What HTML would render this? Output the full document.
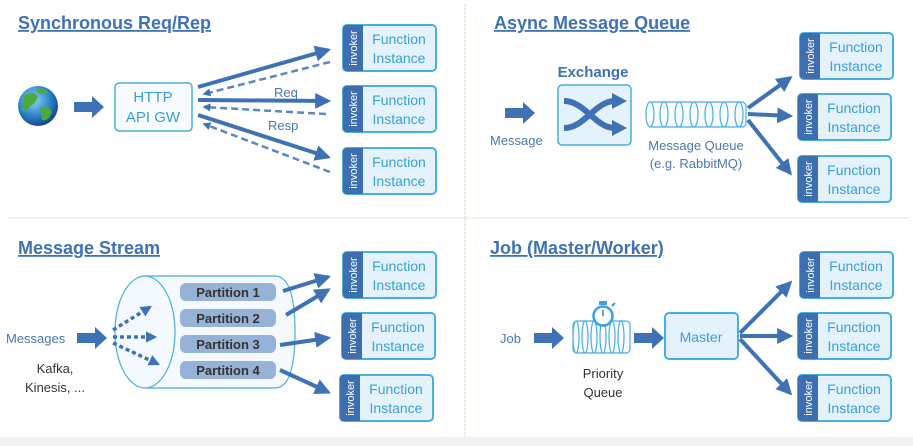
<!DOCTYPE html>
<html><head><meta charset="utf-8"><style>
html,body{margin:0;padding:0;background:#fff}
svg{display:block}
text{font-family:"Liberation Sans","DejaVu Sans",sans-serif}
.t{font-size:18px;font-weight:bold;fill:#3f72b5;text-decoration:underline}
.fi{font-size:14px;fill:#3a9fd6}
.inv{font-size:11px;fill:#fff}
.lb{font-size:13px;fill:#4a78b0}
.dk{font-size:13px;fill:#333}
</style></head><body>
<svg width="913" height="446" viewBox="0 0 913 446" xmlns="http://www.w3.org/2000/svg">
<defs>
<radialGradient id="gl" cx="0.4" cy="0.35" r="0.7"><stop offset="0" stop-color="#8fd0f5"/><stop offset="0.6" stop-color="#2a7fc8"/><stop offset="1" stop-color="#123f80"/></radialGradient>
<marker id="ah" viewBox="0 0 10 10" refX="8" refY="5" markerWidth="4" markerHeight="4" orient="auto"><path d="M0,0 L10,5 L0,10 z" fill="#3f72b5"/></marker>
<marker id="ahs" viewBox="0 0 10 10" refX="8" refY="5" markerWidth="3.2" markerHeight="3.2" orient="auto"><path d="M0,0 L10,5 L0,10 z" fill="#3f72b5"/></marker>
<g id="fb">
<rect x="1" y="1" width="93" height="46" rx="4" fill="#e4f3fb" stroke="#4aaee0" stroke-width="2"/>
<path d="M5,1 H21 V47 H5 Q1,47 1,43 V5 Q1,1 5,1z" fill="#3d6fb0"/>
<text class="inv" transform="translate(15,24) rotate(-90)" text-anchor="middle">invoker</text>
<text class="fi" x="57" y="20" text-anchor="middle">Function</text>
<text class="fi" x="57" y="39" text-anchor="middle">Instance</text>
</g>
<g id="bigarrow"><path d="M0,-5 H18 V-11 L30,0 L18,11 V5 H0z" fill="#3f72b5"/></g>
</defs>
<rect x="0" y="437" width="913" height="9" fill="#f2f2f2"/>
<line x1="8" y1="218" x2="910" y2="218" stroke="#c8c8c8" stroke-dasharray="1,1"/>
<line x1="465" y1="4" x2="465" y2="437" stroke="#c8c0a8" stroke-dasharray="1,1"/>

<!-- Sync -->
<text class="t" x="18" y="29">Synchronous  Req/Rep</text>
<circle cx="38" cy="106" r="20" fill="url(#gl)"/>
<path d="M24,96 q8,-6 14,0 q-2,8 -8,10 q-4,6 -8,4z M40,108 q8,-4 12,4 q-4,10 -10,8z M36,90 q6,-4 12,2 q-4,2 -8,2z" fill="#4caa3c"/>
<use href="#bigarrow" x="74" y="107"/>
<rect x="115" y="83" width="77" height="48" rx="4" fill="#f7fbfe" stroke="#4aaee0" stroke-width="1.5"/>
<text class="fi" x="153" y="102" text-anchor="middle" style="font-size:15px">HTTP</text>
<text class="fi" x="153" y="122" text-anchor="middle" style="font-size:15px">API GW</text>
<g stroke="#3f72b5" stroke-width="4" fill="none">
<line x1="198" y1="87" x2="328" y2="50" marker-end="url(#ah)"/>
<line x1="198" y1="100" x2="328" y2="101" marker-end="url(#ah)"/>
<line x1="198" y1="115" x2="328" y2="157" marker-end="url(#ah)"/>
</g>
<g stroke="#5b86c0" stroke-width="2.5" fill="none" stroke-dasharray="7,4">
<line x1="330" y1="62" x2="204" y2="94" marker-end="url(#ahs)"/>
<line x1="326" y1="114" x2="204" y2="107" marker-end="url(#ahs)"/>
<line x1="330" y1="172" x2="204" y2="124" marker-end="url(#ahs)"/>
</g>
<text class="lb" x="274" y="97">Req</text>
<text class="lb" x="268" y="130">Resp</text>
<use href="#fb" x="342" y="24"/>
<use href="#fb" x="342" y="85"/>
<use href="#fb" x="342" y="147"/>

<!-- Async -->
<text class="t" x="494" y="29">Async Message Queue</text>
<use href="#bigarrow" x="505" y="113"/>
<text class="lb" x="490" y="145">Message</text>
<text x="593" y="77" text-anchor="middle" style="font-size:15px;font-weight:bold;fill:#3f72b5">Exchange</text>
<rect x="558" y="85" width="73" height="60" rx="4" fill="#e4f3fb" stroke="#4aaee0" stroke-width="1.5"/>
<g stroke="#3f72b5" stroke-width="6" fill="none">
<path d="M564,101 C585,101 595,128 615,128"/>
<path d="M564,128 C585,128 595,101 615,101"/>
</g>
<path d="M612,93 L627,101 L612,109z M612,120 L627,128 L612,136z" fill="#3f72b5"/>
<g stroke="#4aaee0" stroke-width="1.2" fill="#f7fbfe">
<rect x="648" y="102" width="98" height="25" rx="4"/>
<ellipse cx="650" cy="114.5" rx="4" ry="12.5"/>
<ellipse cx="664" cy="114.5" rx="4" ry="12.5"/>
<ellipse cx="679" cy="114.5" rx="4" ry="12.5"/>
<ellipse cx="694" cy="114.5" rx="4" ry="12.5"/>
<ellipse cx="709" cy="114.5" rx="4" ry="12.5"/>
<ellipse cx="724" cy="114.5" rx="4" ry="12.5"/>
<ellipse cx="739" cy="114.5" rx="4" ry="12.5"/>
</g>
<text class="lb" x="696" y="150" text-anchor="middle">Message Queue</text>
<text class="lb" x="696" y="168" text-anchor="middle">(e.g. RabbitMQ)</text>
<g stroke="#3f72b5" stroke-width="4" fill="none">
<line x1="748" y1="108" x2="790" y2="78" marker-end="url(#ah)"/>
<line x1="748" y1="114" x2="790" y2="116" marker-end="url(#ah)"/>
<line x1="748" y1="120" x2="790" y2="173" marker-end="url(#ah)"/>
</g>
<use href="#fb" x="799" y="32"/>
<use href="#fb" x="797" y="93"/>
<use href="#fb" x="797" y="155"/>

<!-- Stream -->
<text class="t" x="18" y="254">Message Stream</text>
<text class="lb" x="6" y="343">Messages</text>
<use href="#bigarrow" x="77" y="338"/>
<text class="dk" x="55" y="373" text-anchor="middle">Kafka,</text>
<text class="dk" x="55" y="392" text-anchor="middle">Kinesis, ...</text>
<path d="M145,276 H275 Q295,276 295,332 Q295,388 275,388 H145" fill="#f3f9fd" stroke="#4aaee0" stroke-width="1.2"/>
<ellipse cx="145" cy="332" rx="30" ry="56" fill="#f3f9fd" stroke="#4aaee0" stroke-width="1.2"/>
<g stroke="#3f72b5" stroke-width="3.5" fill="none" stroke-dasharray="4,3">
<line x1="113" y1="330" x2="150" y2="307" marker-end="url(#ahs)"/>
<line x1="113" y1="337" x2="155" y2="337" marker-end="url(#ahs)"/>
<line x1="113" y1="343" x2="158" y2="364" marker-end="url(#ahs)"/>
</g>
<g fill="#96b2d6">
<rect x="180" y="283" width="96" height="18" rx="6"/>
<rect x="180" y="309" width="96" height="18" rx="6"/>
<rect x="180" y="335" width="96" height="18" rx="6"/>
<rect x="180" y="361" width="96" height="18" rx="6"/>
</g>
<g style="font-size:13px;font-weight:bold;fill:#333">
<text x="228" y="297" text-anchor="middle">Partition 1</text>
<text x="228" y="323" text-anchor="middle">Partition 2</text>
<text x="228" y="349" text-anchor="middle">Partition 3</text>
<text x="228" y="375" text-anchor="middle">Partition 4</text>
</g>
<g stroke="#3f72b5" stroke-width="4" fill="none">
<line x1="283" y1="291" x2="328" y2="277" marker-end="url(#ah)"/>
<line x1="286" y1="315" x2="328" y2="290" marker-end="url(#ah)"/>
<line x1="280" y1="345" x2="328" y2="338" marker-end="url(#ah)"/>
<line x1="280" y1="370" x2="328" y2="392" marker-end="url(#ah)"/>
</g>
<use href="#fb" x="342" y="251"/>
<use href="#fb" x="341" y="312"/>
<use href="#fb" x="339" y="374"/>

<!-- Job -->
<text class="t" x="490" y="254">Job (Master/Worker)</text>
<text class="lb" x="500" y="343">Job</text>
<use href="#bigarrow" x="534" y="338"/>
<g stroke="#4aaee0" stroke-width="1.2" fill="#f7fbfe">
<rect x="573" y="321" width="57" height="32" rx="4"/>
<ellipse cx="576" cy="337" rx="3" ry="16"/>
<ellipse cx="585" cy="337" rx="3" ry="16"/>
<ellipse cx="594" cy="337" rx="3" ry="16"/>
<ellipse cx="603" cy="337" rx="3" ry="16"/>
<ellipse cx="612" cy="337" rx="3" ry="16"/>
<ellipse cx="621" cy="337" rx="3" ry="16"/>
</g>
<circle cx="603" cy="316" r="9.5" fill="#fff" stroke="#3ba0e0" stroke-width="2.5"/>
<rect x="599" y="301" width="8" height="4" fill="#3ba0e0"/>
<line x1="603" y1="316" x2="603" y2="310" stroke="#3f72b5" stroke-width="1.5"/>
<line x1="612" y1="306" x2="615" y2="303" stroke="#3ba0e0" stroke-width="2"/>
<text class="dk" x="603" y="378" text-anchor="middle">Priority</text>
<text class="dk" x="603" y="397" text-anchor="middle">Queue</text>
<use href="#bigarrow" x="634" y="338"/>
<rect x="665" y="313" width="73" height="46" rx="4" fill="#e4f3fb" stroke="#4aaee0" stroke-width="2"/>
<text class="fi" x="701" y="342" text-anchor="middle">Master</text>
<g stroke="#3f72b5" stroke-width="4" fill="none">
<line x1="740" y1="333" x2="790" y2="283" marker-end="url(#ah)"/>
<line x1="740" y1="336" x2="790" y2="336" marker-end="url(#ah)"/>
<line x1="740" y1="339" x2="790" y2="393" marker-end="url(#ah)"/>
</g>
<use href="#fb" x="799" y="251"/>
<use href="#fb" x="797" y="312"/>
<use href="#fb" x="797" y="374"/>
</svg>
</body></html>
